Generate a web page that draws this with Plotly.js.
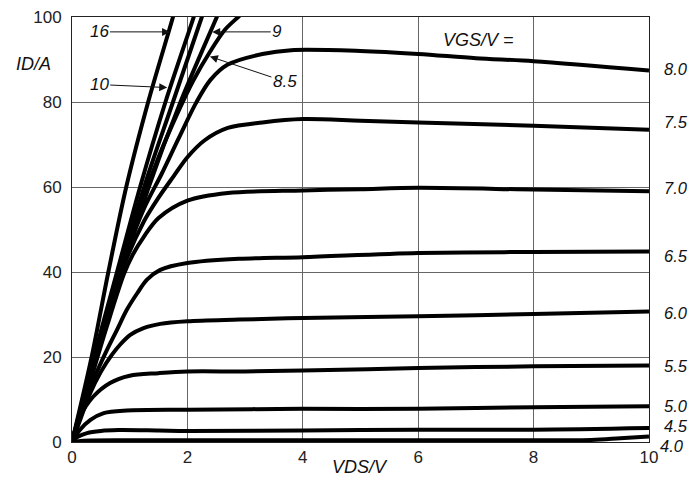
<!DOCTYPE html>
<html>
<head>
<meta charset="utf-8">
<script src="https://cdn.plot.ly/plotly-3.0.1.min.js"></script>
<style>html,body{margin:0;padding:0;background:#fff;}#chart{width:694px;height:477px;}</style>
</head>
<body>
<div id="chart"></div>
<script>
// VGS labels (order: top to bottom in linear region)
const vgsLabels = ["16", "10", "", "9", "8.5", "8.0", "7.5", "7.0", "6.5", "6.0", "5.5", "5.0", "4.5", "4.0"];

// Curves: VDS (V) and ID (A)
const vds16 = [0, 0.34, 0.63, 0.94, 1.32, 1.75, 1.85];
const id16  = [0, 20, 40, 60, 80, 100, 105];
const vds10 = [0, 0.38, 0.78, 1.18, 1.62, 2.11, 2.25];
const id10  = [0, 20, 40, 60, 80, 100, 106];
const vdsX  = [0, 0.40, 0.82, 1.25, 1.75, 2.25, 2.40];
const idX   = [0, 20, 40, 60, 80, 100, 106];
const vds9  = [0, 0.42, 0.86, 1.33, 1.88, 2.51, 2.70];
const id9   = [0, 20, 40, 60, 80, 100, 106];
const vds85 = [0, 0.3, 0.6, 0.9, 1.2, 1.5, 1.8, 2.1, 2.4, 2.65, 2.88, 3.2];
const id85  = [0, 14, 28.5, 43, 56, 67, 76.5, 85, 92, 97, 100, 104];
const vds80 = [0, 0.3, 0.6, 0.9, 1.25, 1.55, 1.85, 2.15, 2.4, 2.7, 3.3, 3.8, 5, 6, 7, 8, 10];
const id80  = [0, 14, 28.5, 42.5, 55, 63, 71.5, 79.8, 85.2, 88.8, 91.3, 92.2, 92, 91.3, 90.3, 89.6, 87.4];
const vds75 = [0, 0.3, 0.6, 0.9, 1.25, 1.5, 1.76, 2, 2.3, 2.7, 3.3, 4, 5, 6, 8, 10];
const id75  = [0, 14, 28, 41.5, 52, 57.5, 62.5, 67, 71, 73.9, 75.2, 76, 75.6, 75.2, 74.4, 73.5];
const vds70 = [0, 0.3, 0.6, 0.9, 1.05, 1.25, 1.5, 2, 2.7, 4, 5, 6, 8, 10];
const id70  = [0, 13.5, 27, 39.5, 44, 48.4, 52.7, 56.8, 58.6, 59.2, 59.5, 59.8, 59.4, 59];
const vds65 = [0, 0.2, 0.4, 0.6, 0.78, 0.95, 1.13, 1.3, 1.53, 2, 2.9, 4, 6, 8, 10];
const id65  = [0, 8, 15.5, 21.5, 26.4, 31.1, 35, 38.2, 40.5, 42.1, 43.1, 43.5, 44.5, 44.7, 44.8];
const vds60 = [0, 0.15, 0.3, 0.5, 0.69, 0.84, 1.01, 1.24, 1.53, 2, 2.9, 4, 6, 8, 10];
const id60  = [0, 5.5, 11, 16.5, 20.5, 23, 25.2, 26.8, 27.8, 28.4, 28.8, 29.2, 29.6, 30.1, 30.7];
const vds55 = [0, 0.14, 0.37, 0.66, 1.0, 1.5, 2, 3, 4, 6, 8, 10];
const id55  = [0, 6, 10.7, 13.9, 15.6, 16.2, 16.6, 16.6, 16.8, 17.4, 17.8, 18];
const vds50 = [0, 0.14, 0.32, 0.55, 0.95, 2, 4, 6, 8, 10];
const id50  = [0, 2.9, 5.2, 6.8, 7.4, 7.6, 7.8, 7.8, 8.2, 8.4];
const vds45 = [0, 0.1, 0.26, 0.5, 0.8, 1.5, 2, 4, 6, 8, 10];
const id45  = [0, 1.2, 2.1, 2.6, 2.8, 2.7, 2.6, 2.7, 2.9, 2.9, 3.3];
const vds40 = [0, 0.2, 1, 3, 5, 7, 9, 9.5, 10];
const id40  = [0, 0.3, 0.4, 0.4, 0.4, 0.4, 0.5, 0.9, 1.3];

// Right-hand label names
const rightLabels = ["8.0", "7.5", "7.0", "6.5", "6.0", "5.5", "5.0", "4.5", "4.0"];

const xTicks = [0, 2, 4, 6, 8, 10];
const yTicks = [0, 20, 40, 60, 80, 100];

const series = [
  [vds16, id16], [vds10, id10], [vdsX, idX], [vds9, id9], [vds85, id85],
  [vds80, id80], [vds75, id75], [vds70, id70], [vds65, id65], [vds60, id60],
  [vds55, id55], [vds50, id50], [vds45, id45], [vds40, id40]
];

const traces = series.map((s, i) => ({
  x: s[0], y: s[1], type: 'scatter', mode: 'lines',
  name: vgsLabels[i] || 'unlabelled',
  line: {color: '#000', width: 4, shape: 'spline', smoothing: 0.9},
  hoverinfo: 'skip', showlegend: false
}));

// layout geometry (pixels)
const M = {l: 72, r: 45, t: 17, b: 35};
const W = 694, H = 477;
const plotH = H - M.t - M.b;
const py2paper = py => (H - M.b - py) / plotH;
const rightLabelPx = [69, 122, 188, 256, 313, 366, 406, 426, 446];

const F = 'Liberation Sans, Arial, sans-serif';
const annotations = [];
rightLabels.forEach((t, i) => annotations.push({
  xref: 'paper', yref: 'paper', x: 1, y: py2paper(rightLabelPx[i]), xanchor: 'left', yanchor: 'middle',
  xshift: i === 8 ? 10 : 14, text: '<i>' + t + '</i>', showarrow: false, borderpad: 0,
  font: {family: F, size: 16.5, color: '#111'}
}));
// Arrow labels on steep curves
const arrowLabels = [
  {text: '16', x: 1.70, y: 96.5, ax: -71, ay: 0},
  {text: '10', x: 1.65, y: 83.4, ax: -68, ay: -3},
  {text: '9', x: 2.43, y: 96.5, ax: 65, ay: 0},
  {text: '8.5', x: 2.39, y: 90.7, ax: 75, ay: 25}
];
arrowLabels.forEach(a => annotations.push({
  xref: 'x', yref: 'y', x: a.x, y: a.y, ax: a.ax, ay: a.ay, axref: 'pixel', ayref: 'pixel',
  text: '<i>' + a.text + '</i>', showarrow: true, arrowhead: 2, arrowsize: 1.6, arrowwidth: 1,
  arrowcolor: '#111', standoff: 0, font: {family: F, size: 17, color: '#111'}
}));
annotations.push({xref: 'paper', yref: 'paper', x: -0.067, y: 0.89, xanchor: 'center', yanchor: 'middle',
  text: '<i>ID/A</i>', showarrow: false, font: {family: F, size: 18, color: '#111'}});
annotations.push({xref: 'paper', yref: 'paper', x: 0.499, y: -0.058, xanchor: 'center', yanchor: 'middle',
  text: '<i>VDS/V</i>', showarrow: false, font: {family: F, size: 18, color: '#111'}});
annotations.push({xref: 'paper', yref: 'paper', x: 0.705, y: 0.947, xanchor: 'center', yanchor: 'middle',
  text: '<i>VGS/V =</i>', showarrow: false, font: {family: F, size: 18, color: '#111'}});

const layout = {
  width: W, height: H,
  margin: M,
  paper_bgcolor: '#fff', plot_bgcolor: '#fff',
  xaxis: {range: [0, 10], tickvals: xTicks, ticktext: xTicks.map(String), showgrid: true,
    gridcolor: '#666', gridwidth: 1, zeroline: false, showline: true, mirror: true,
    linecolor: '#222', linewidth: 1, ticks: '', tickfont: {family: F, size: 17, color: '#222'},
    fixedrange: true},
  yaxis: {range: [0, 100], tickvals: yTicks, ticktext: yTicks.map(String), showgrid: true,
    gridcolor: '#666', gridwidth: 1, zeroline: false, showline: true, mirror: true,
    linecolor: '#222', linewidth: 1, ticks: '', ticklabelstandoff: 6,
    tickfont: {family: F, size: 17, color: '#222'}, fixedrange: true},
  annotations: annotations,
  showlegend: false
};

Plotly.newPlot('chart', traces, layout, {displayModeBar: false, staticPlot: true});
</script>
</body>
</html>
